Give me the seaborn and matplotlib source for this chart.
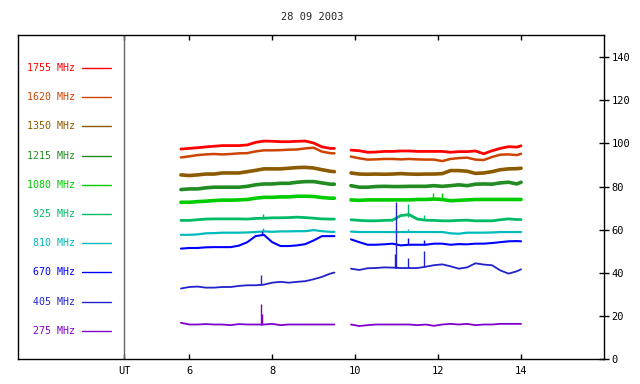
import numpy as np
import pandas as pd
import matplotlib
matplotlib.use('Agg')
import matplotlib.pyplot as plt
import seaborn as sns

# sample times (UT hours) of the two observing blocks
t_a = [5.8, 6.0, 6.2, 6.4, 6.6, 6.8, 7.0, 7.2, 7.4, 7.6, 7.8, 8.0, 8.2, 8.4, 8.6, 8.8, 9.0, 9.2, 9.4, 9.5]
t_b = [9.9, 10.1, 10.3, 10.5, 10.7, 10.9, 11.1, 11.3, 11.5, 11.7, 11.9, 12.1, 12.3, 12.5, 12.7, 12.9,
       13.1, 13.3, 13.5, 13.7, 13.9, 14.0]

freqs = ['1755 MHz', '1620 MHz', '1350 MHz', '1215 MHz', '1080 MHz',
         '925 MHz', '810 MHz', '670 MHz', '405 MHz', '275 MHz']
colors = ['#ff0000', '#cc4400', '#8c5a00', '#228b22', '#00cc00',
          '#00bb66', '#00bbbb', '#0000ff', '#2222cc', '#8000cc']
widths = [2.0, 1.8, 2.6, 2.6, 2.6, 2.0, 1.6, 1.5, 1.3, 1.3]

f1755_a = [97.4, 97.7, 98.0, 98.4, 98.7, 99.0, 99.0, 99.0, 99.3, 100.5, 101.1, 101.0, 100.8, 100.8, 101.0, 101.1,
           100.2, 98.4, 97.7, 97.7]
f1755_b = [96.9, 96.6, 95.9, 96.0, 96.3, 96.3, 96.5, 96.5, 96.3, 96.3, 96.3, 96.3, 95.9, 96.2, 96.2, 96.5,
           95.2, 96.6, 97.7, 98.5, 98.3, 98.9]
f1620_a = [93.5, 94.0, 94.6, 94.9, 95.1, 94.9, 95.1, 95.4, 95.5, 96.3, 96.8, 96.8, 96.9, 97.1, 97.2, 97.7,
           98.0, 96.2, 95.5, 95.4]
f1620_b = [93.9, 93.1, 92.5, 92.6, 92.8, 92.8, 92.6, 92.8, 92.6, 92.5, 92.5, 91.8, 92.8, 93.2, 93.4, 92.5,
           92.3, 93.7, 94.8, 94.9, 94.6, 95.2]
f1350_a = [85.4, 85.1, 85.4, 85.8, 85.8, 86.3, 86.3, 86.3, 86.9, 87.5, 88.2, 88.2, 88.2, 88.5, 88.8, 88.9,
           88.6, 87.8, 87.1, 86.9]
f1350_b = [86.3, 85.8, 85.7, 85.8, 85.7, 85.8, 86.0, 85.8, 85.7, 85.8, 85.8, 86.0, 87.4, 87.4, 87.1, 86.1,
           86.3, 86.9, 87.8, 88.2, 88.3, 88.5]
f1215_a = [78.6, 78.9, 78.9, 79.4, 79.7, 79.7, 79.7, 79.7, 80.1, 80.8, 81.2, 81.2, 81.5, 81.5, 82.0, 82.3,
           82.3, 81.7, 81.1, 81.1]
f1215_b = [80.4, 79.7, 79.7, 80.0, 80.1, 80.0, 80.0, 80.1, 80.1, 80.1, 80.4, 80.1, 80.4, 80.8, 80.4, 81.1,
           81.2, 81.1, 81.7, 82.0, 81.2, 82.0]
f1080_a = [72.7, 72.7, 73.0, 73.2, 73.5, 73.7, 73.7, 73.8, 74.0, 74.6, 75.0, 75.0, 75.2, 75.2, 75.5, 75.5,
           75.4, 74.9, 74.6, 74.6]
f1080_b = [73.8, 73.6, 73.8, 73.8, 73.8, 73.8, 73.8, 73.8, 74.0, 74.0, 74.2, 74.0, 73.4, 73.6, 73.8, 74.0,
           74.0, 74.0, 74.0, 74.0, 74.0, 74.0]
f925_a = [64.3, 64.3, 64.6, 64.9, 65.0, 65.0, 65.0, 65.0, 64.9, 65.2, 65.3, 65.5, 65.5, 65.6, 65.8, 65.6,
          65.3, 65.0, 64.9, 64.9]
f925_b = [64.6, 64.3, 64.1, 64.1, 64.3, 64.4, 66.5, 67.0, 64.9, 64.4, 64.3, 64.1, 64.1, 64.3, 64.4, 64.1,
          64.1, 64.1, 64.6, 65.0, 64.7, 64.7]
f810_a = [57.6, 57.6, 57.8, 58.3, 58.4, 58.6, 58.6, 58.6, 58.7, 58.9, 59.2, 59.0, 59.2, 59.2, 59.3, 59.3,
          59.8, 59.3, 59.0, 59.0]
f810_b = [59.1, 58.9, 58.9, 58.9, 58.9, 58.9, 58.9, 58.9, 58.9, 58.9, 58.9, 58.9, 58.3, 58.1, 58.6, 58.6,
          58.6, 58.7, 58.9, 58.9, 58.9, 58.9]
f670_a = [51.2, 51.5, 51.5, 51.8, 51.9, 51.9, 51.9, 52.6, 54.2, 57.0, 57.6, 54.2, 52.4, 52.4, 52.7, 53.3,
          55.0, 57.0, 57.0, 57.0]
f670_b = [55.5, 54.2, 53.0, 53.0, 53.2, 53.5, 52.7, 53.0, 53.0, 53.0, 53.5, 53.5, 53.0, 53.3, 53.2, 53.5,
          53.5, 53.8, 54.2, 54.6, 54.7, 54.6]
f405_a = [32.7, 33.4, 33.6, 33.1, 33.1, 33.4, 33.4, 33.9, 34.2, 34.2, 34.5, 35.4, 35.8, 35.4, 35.8, 36.1,
          37.0, 38.1, 39.6, 40.1]
f405_b = [41.9, 41.3, 42.1, 42.2, 42.5, 42.4, 42.2, 42.2, 42.2, 42.8, 43.5, 43.9, 43.0, 41.9, 42.5, 44.4,
          43.8, 43.5, 41.1, 39.6, 40.7, 41.6]
f275_a = [16.8, 16.0, 16.0, 16.2, 16.0, 16.0, 15.7, 16.2, 16.0, 16.0, 16.0, 16.3, 15.7, 16.0, 16.0, 16.0,
          16.0, 16.0, 16.0, 16.0]
f275_b = [16.0, 15.3, 15.7, 16.0, 16.0, 16.0, 16.0, 16.0, 15.7, 16.0, 15.4, 16.0, 16.3, 16.0, 16.3, 15.7,
          16.0, 16.0, 16.3, 16.3, 16.3, 16.3]

# short bursts (spikes)
spike_freq = ['1080 MHz', '1080 MHz', '925 MHz', '925 MHz', '925 MHz', '810 MHz', '810 MHz',
              '670 MHz', '670 MHz', '670 MHz', '405 MHz', '405 MHz', '405 MHz', '405 MHz', '405 MHz',
              '275 MHz', '275 MHz']
spike_t = [11.87, 12.10, 7.78, 11.28, 11.67, 7.78, 11.28,
           7.76, 11.28, 11.67, 7.73, 10.97, 10.99, 11.28, 11.67,
           7.73, 7.76]
spike_lo = [74.0, 74.0, 65.3, 66.0, 64.4, 59.0, 58.9,
            57.6, 53.0, 53.0, 34.5, 42.2, 42.2, 42.2, 42.8,
            16.0, 16.0]
spike_hi = [77.1, 77.1, 67.3, 72.0, 67.0, 60.9, 60.5,
            59.5, 56.1, 55.0, 38.8, 48.9, 72.7, 46.8, 49.9,
            25.7, 20.7]

series = [(f1755_a, f1755_b), (f1620_a, f1620_b), (f1350_a, f1350_b), (f1215_a, f1215_b),
          (f1080_a, f1080_b), (f925_a, f925_b), (f810_a, f810_b), (f670_a, f670_b),
          (f405_a, f405_b), (f275_a, f275_b)]

rows = []
for name, (va, vb) in zip(freqs, series):
    for t, v in zip(t_a, va):
        rows.append((name, 'a', t, v))
    for t, v in zip(t_b, vb):
        rows.append((name, 'b', t, v))
df = pd.DataFrame(rows, columns=['freq', 'seg', 'ut', 'flux'])

palette = dict(zip(freqs, colors))
sizes = dict(zip(freqs, widths))

sns.set_style('white')
plt.rcParams['font.family'] = ['DejaVu Sans Mono']

fig = plt.figure(figsize=(6.4, 3.84), dpi=100)
ax = fig.add_axes([18 / 640, 25 / 384, 586 / 640, 324 / 384])

sns.lineplot(data=df, x='ut', y='flux', hue='freq', size='freq', units='seg', estimator=None,
             palette=palette, sizes=sizes, legend=False, ax=ax)
ax.vlines(spike_t, spike_lo, spike_hi, colors=[palette[f] for f in spike_freq], linewidth=1.0)

ut_x = 4.434
ax.axvline(ut_x, color='#666666', linewidth=1.0)

ax.set_xlim(1.872, 16.0)
ax.set_ylim(0, 150.3)
ax.set_xticks([ut_x, 6, 8, 10, 12, 14])
ax.set_xticklabels(['UT', '6', '8', '10', '12', '14'])
ax.set_yticks([0, 20, 40, 60, 80, 100, 120, 140])
ax.yaxis.tick_right()
ax.tick_params(axis='x', direction='in', top=True, bottom=True, length=3.5, width=1,
               labelsize=7.5, pad=5, colors='black')
ax.tick_params(axis='y', direction='inout', right=True, left=False, length=7, width=1,
               labelsize=7.5, pad=2, colors='black')
ax.set_xlabel('')
ax.set_ylabel('')
for sp in ax.spines.values():
    sp.set_color('black')
    sp.set_linewidth(1.0)

# legend column on the left
for i, (name, col) in enumerate(zip(freqs, colors)):
    yy = 0.898 - i * 0.0901
    ax.text(0.097, yy, name, color=col, fontsize=7.2, ha='right', va='center', transform=ax.transAxes)
    ax.plot([0.109, 0.159], [yy, yy], color=col, linewidth=1.0, transform=ax.transAxes)

fig.text(312 / 640, 1 - 17 / 384, '28 09 2003', ha='center', va='center', fontsize=7.5)

fig.savefig('out.png', dpi=100)
